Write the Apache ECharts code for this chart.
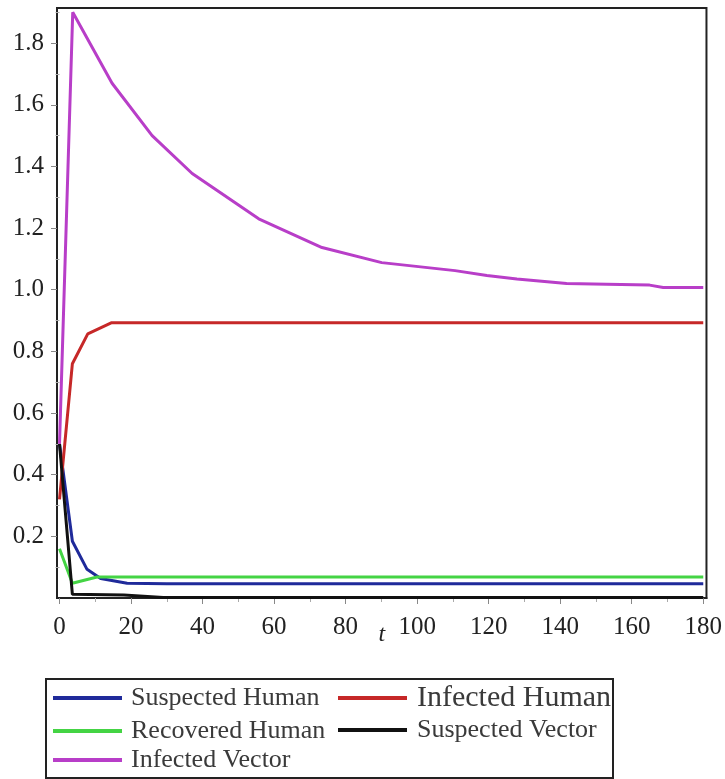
<!DOCTYPE html>
<html>
<head>
<meta charset="utf-8">
<script src="https://cdn.jsdelivr.net/npm/echarts@6/dist/echarts.min.js"></script>
<style>
html,body{margin:0;padding:0;background:#fff;}
#chart{width:725px;height:779px;}
</style>
</head>
<body>
<div id="chart"></div>
<script>
// ---- data ----
var seriesNames = ['Suspected Human', 'Infected Human', 'Recovered Human', 'Suspected Vector', 'Infected Vector'];
var seriesColors = ['#1f2a9a', '#c62828', '#44d444', '#111111', '#b83ec8'];

var suspectedHuman = [[0,0.5],[3.6,0.184],[7.7,0.093],[11.5,0.063],[18.9,0.048],[30,0.046],[180,0.046]];
var infectedHuman = [[0,0.32],[3.6,0.76],[7.9,0.857],[14.6,0.893],[180,0.893]];
var recoveredHuman = [[0,0.16],[3.6,0.048],[10.5,0.068],[20,0.068],[180,0.068]];
var suspectedVector = [[0,0.5],[3.6,0.012],[18,0.010],[29,0.002],[180,0.002]];
var infectedVector = [[0,0.5],[3.7,1.90],[14.7,1.67],[25.9,1.50],[37.1,1.377],[55.7,1.23],[73.4,1.137],[90.1,1.088],[110.6,1.062],[119.5,1.046],[127.9,1.035],[141.8,1.02],[153,1.018],[165,1.015],[168.8,1.007],[180,1.007]];

var xTicks = [0,20,40,60,80,100,120,140,160,180];
var xMinorTicks = [10,30,50,70,90,110,130,150,170];
var yTicks = [0.2,0.4,0.6,0.8,1.0,1.2,1.4,1.6,1.8];
var yMinorTicks = [0.1,0.3,0.5,0.7,0.9,1.1,1.3,1.5,1.7,1.9];

var allData = [suspectedHuman, infectedHuman, recoveredHuman, suspectedVector, infectedVector];

var FONT = "'Liberation Serif', 'Times New Roman', serif";
var chart = echarts.init(document.getElementById('chart'), null, {renderer: 'canvas'});

var xMin = -0.7, xMax = 180.9, yMin = 0, yMax = 1.914;

var series = seriesNames.map(function (n, i) {
  return {
    name: n, type: 'line', data: allData[i], showSymbol: false, symbol: 'none',
    xAxisIndex: 0, yAxisIndex: 0,
    lineStyle: {color: seriesColors[i], width: 3}, itemStyle: {color: seriesColors[i]},
    z: 2 + i, silent: true, animation: false
  };
});

function legendItem(name, left, top, fontSize, padLeft) {
  return {
    show: true, orient: 'vertical', left: left, top: top, padding: 0,
    itemWidth: 69, itemHeight: 4, icon: 'rect', selectedMode: false,
    data: [{name: name, icon: 'rect'}],
    textStyle: {fontFamily: FONT, fontSize: fontSize, lineHeight: fontSize, color: '#3a3a3a', padding: [0,0,0,padLeft]}
  };
}

var option = {
  backgroundColor: '#fff',
  animation: false,
  grid: {left: 57, right: 18, top: 8, bottom: 181, show: true, borderColor: '#222', borderWidth: 2, backgroundColor: 'transparent'},
  xAxis: [{
    type: 'value', min: xMin, max: xMax, position: 'bottom',
    name: 't', nameLocation: 'middle', nameGap: 25, nameMoveOverlap: false,
    nameTextStyle: {fontFamily: FONT, fontStyle: 'italic', fontSize: 24, color: '#222', verticalAlign: 'top'},
    axisLine: {show: true, onZero: false, lineStyle: {color: '#222', width: 2}},
    axisTick: {show: true, customValues: xTicks, length: 6, lineStyle: {color: '#888', width: 1}},
    axisLabel: {show: true, customValues: xTicks, margin: 17, fontFamily: FONT, fontSize: 25, color: '#222'},
    splitLine: {show: false}
  }, {
    type: 'value', min: xMin, max: xMax, position: 'bottom', gridIndex: 0,
    axisLine: {show: false},
    axisTick: {show: true, customValues: xMinorTicks, length: 4, lineStyle: {color: '#aaa', width: 1}},
    axisLabel: {show: false},
    splitLine: {show: false}
  }],
  yAxis: [{
    type: 'value', min: yMin, max: yMax, position: 'left',
    axisLine: {show: true, onZero: false, lineStyle: {color: '#222', width: 2}},
    axisTick: {show: true, customValues: yTicks, length: 6, lineStyle: {color: '#888', width: 1}},
    axisLabel: {show: true, customValues: yTicks, margin: 13, fontFamily: FONT, fontSize: 25, color: '#222',
      formatter: function (v) { return v.toFixed(1); }},
    splitLine: {show: false}
  }, {
    type: 'value', min: yMin, max: yMax, position: 'left',
    axisLine: {show: false},
    axisTick: {show: true, customValues: yMinorTicks, length: 4, lineStyle: {color: '#aaa', width: 1}},
    axisLabel: {show: false},
    splitLine: {show: false}
  }],
  legend: [
    legendItem('Suspected Human', 53, 685, 26, 4),
    legendItem('Recovered Human', 53, 718, 26, 4),
    legendItem('Infected Vector', 53, 747, 26, 4),
    legendItem('Infected Human', 338, 683, 30, 5),
    legendItem('Suspected Vector', 338, 717, 26, 5)
  ],
  graphic: [{
    type: 'rect', left: 45, top: 678, z: 0, silent: true,
    shape: {width: 567, height: 99},
    style: {fill: 'transparent', stroke: '#222', lineWidth: 2}
  }],
  series: series
};
chart.setOption(option);
</script>
</body>
</html>
